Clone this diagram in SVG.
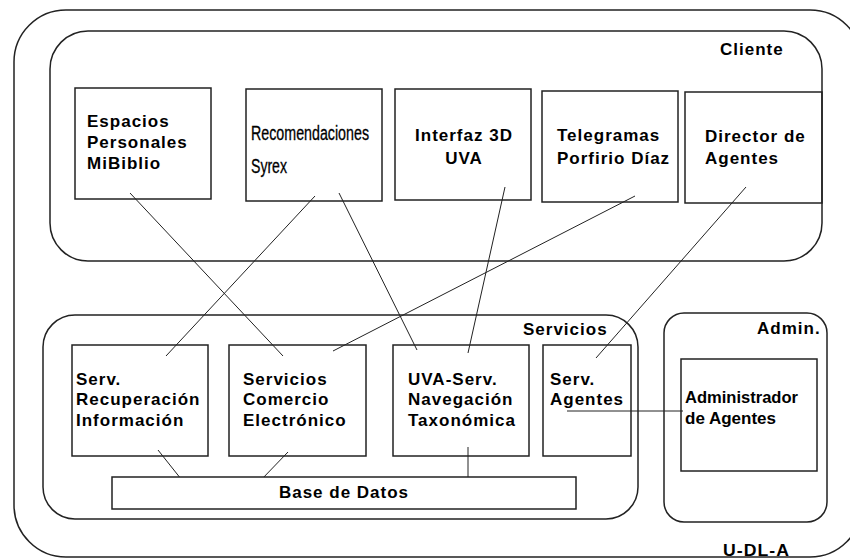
<svg xmlns="http://www.w3.org/2000/svg" width="850" height="560" viewBox="0 0 850 560">
<style>
.bg{fill:#fff}
.grp{fill:none;stroke:#222;stroke-width:1.5}
.box{fill:#fff;stroke:#222;stroke-width:1.5}
.t{font-family:"Liberation Sans",Arial,sans-serif;font-size:17px;font-weight:bold;fill:#000;letter-spacing:1px}
.tn{font-family:"Liberation Sans",Arial,sans-serif;font-size:17px;font-weight:bold;fill:#000}
.tr{font-family:"Liberation Sans",Arial,sans-serif;font-size:20px;fill:#000;stroke:#000;stroke-width:0.3}
.c{fill:none;stroke:#222;stroke-width:1}
</style>
<rect class="bg" x="0" y="0" width="850" height="560"/>
<g id="udla">
<rect class="grp" x="14" y="10" width="848" height="547" rx="52" ry="52"/>
<text class="t" x="723" y="556" textLength="67" lengthAdjust="spacingAndGlyphs">U-DL-A</text>
</g>
<g id="cliente">
<rect class="grp" x="50" y="31" width="772" height="230" rx="38" ry="38"/>
<text class="t" x="720" y="55">Cliente</text>
</g>
<g id="servicios">
<rect class="grp" x="43" y="315" width="595" height="204" rx="32" ry="32"/>
<text class="t" x="523" y="335">Servicios</text>
</g>
<g id="admin">
<rect class="grp" x="664" y="313" width="163" height="209" rx="20" ry="20"/>
<text class="t" x="757" y="334">Admin.</text>
</g>
<g id="connectors">
<line class="c" x1="130" y1="193" x2="283" y2="356"/>
<line class="c" x1="315" y1="196" x2="166" y2="356"/>
<line class="c" x1="339" y1="193" x2="417" y2="350"/>
<line class="c" x1="505" y1="187" x2="468" y2="353"/>
<line class="c" x1="635" y1="196" x2="333" y2="351"/>
<line class="c" x1="746" y1="187" x2="596" y2="358"/>
<line class="c" x1="158" y1="450" x2="185" y2="484"/>
<line class="c" x1="288" y1="452" x2="261" y2="480"/>
<line class="c" x1="468" y1="447" x2="468" y2="482"/>
<line class="c" x1="567" y1="411" x2="683" y2="411" stroke-width="1.5"/>
</g>
<g id="espacios">
<rect class="box" x="75" y="88" width="136" height="111" fill-opacity="0"/>
<text class="t" x="87" y="127">Espacios</text>
<text class="t" x="87" y="148">Personales</text>
<text class="t" x="87" y="169">MiBiblio</text>
</g>
<g id="recomendaciones">
<rect class="box" x="246" y="89" width="136" height="112" fill-opacity="0"/>
<text class="tr" x="251" y="140" textLength="118" lengthAdjust="spacingAndGlyphs">Recomendaciones</text>
<text class="tr" x="251" y="173" textLength="36" lengthAdjust="spacingAndGlyphs">Syrex</text>
</g>
<g id="interfaz">
<rect class="box" x="395" y="89" width="136" height="111" fill-opacity="0"/>
<text class="t" x="464" y="141" text-anchor="middle">Interfaz 3D</text>
<text class="t" x="464" y="164" text-anchor="middle">UVA</text>
</g>
<g id="telegramas">
<rect class="box" x="542" y="91" width="136" height="111" fill-opacity="0"/>
<text class="t" x="557" y="141">Telegramas</text>
<text class="t" x="557" y="164">Porfirio Díaz</text>
</g>
<g id="director">
<rect class="box" x="685" y="92" width="137" height="111" fill-opacity="0"/>
<text class="t" x="705" y="142">Director de</text>
<text class="t" x="705" y="164">Agentes</text>
</g>
<g id="recuperacion">
<rect class="box" x="72" y="345" width="136" height="111" fill-opacity="0"/>
<text class="t" x="76" y="385">Serv.</text>
<text class="t" x="76" y="405">Recuperación</text>
<text class="t" x="76" y="426">Información</text>
</g>
<g id="comercio">
<rect class="box" x="229" y="345" width="137" height="111" fill-opacity="0"/>
<text class="t" x="243" y="385">Servicios</text>
<text class="t" x="243" y="405">Comercio</text>
<text class="t" x="243" y="426">Electrónico</text>
</g>
<g id="uvaserv">
<rect class="box" x="393" y="345" width="136" height="111" fill-opacity="0"/>
<text class="t" x="408" y="385">UVA-Serv.</text>
<text class="t" x="408" y="405">Navegación</text>
<text class="t" x="408" y="426">Taxonómica</text>
</g>
<g id="servagentes">
<rect class="box" x="543" y="345" width="88" height="111" fill-opacity="0"/>
<text class="t" x="550" y="385">Serv.</text>
<text class="t" x="550" y="405">Agentes</text>
</g>
<g id="basedatos">
<rect class="box" x="112" y="477" width="464" height="32"/>
<text class="t" x="344" y="498" text-anchor="middle">Base de Datos</text>
</g>
<g id="administrador">
<rect class="box" x="681" y="359" width="136" height="112" fill-opacity="0"/>
<text class="tn" x="685" y="403" textLength="113" lengthAdjust="spacingAndGlyphs">Administrador</text>
<text class="tn" x="685" y="424">de Agentes</text>
</g>
</svg>
